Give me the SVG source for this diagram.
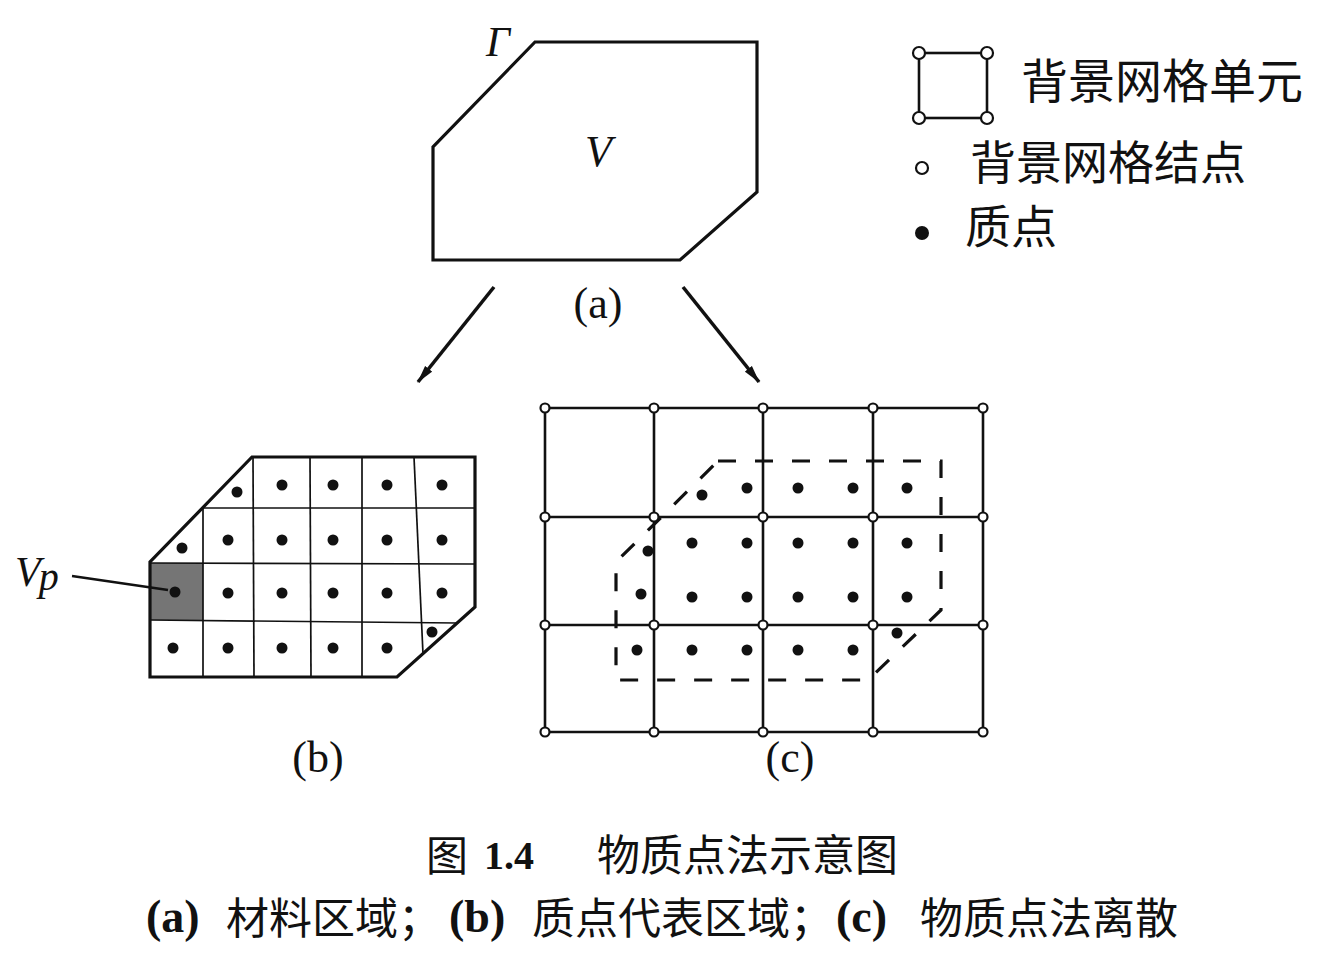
<svg xmlns="http://www.w3.org/2000/svg" width="1318" height="975" viewBox="0 0 1318 975">
<style>
.thick{fill:none;stroke:#111;stroke-width:3.2;stroke-linejoin:miter}
.arrow{fill:none;stroke:#111;stroke-width:3.6}
.thin{fill:none;stroke:#111;stroke-width:1.7}
.grid{fill:none;stroke:#111;stroke-width:2.6}
.dash{fill:none;stroke:#111;stroke-width:3.2;stroke-dasharray:18 19}
.node{fill:#fff;stroke:#111;stroke-width:2.2}
.dot{fill:#111}
.serif{font-family:"Liberation Serif","DejaVu Serif",serif;fill:#111}
.it{font-style:italic}
.cjk{font-family:"Noto Sans CJK SC","Noto Sans CJK JP",sans-serif;fill:#111}
.bold{font-weight:bold}
</style>
<defs>
<marker id="ah" viewBox="0 0 18 10" refX="17" refY="5" markerWidth="18" markerHeight="10" markerUnits="userSpaceOnUse" orient="auto">
<path d="M0,0.5 L18,5 L0,9.5 z" fill="#111"/>
</marker>
</defs>
<rect width="1318" height="975" fill="#fff"/>

<g id="panel-a">
<polygon class="thick" points="535,42 757,42 757,192 680,260 433,260 433,147"/>
<text class="serif it" x="486" y="56" font-size="42">Γ</text>
<text class="serif it" x="585" y="166" font-size="44">V</text>
<text class="serif" x="598" y="318" font-size="44" text-anchor="middle">(a)</text>
</g>

<g id="connectors">
<line class="arrow" x1="494" y1="287" x2="418" y2="382" marker-end="url(#ah)"/>
<line class="arrow" x1="683" y1="287" x2="759" y2="382" marker-end="url(#ah)"/>
</g>

<g id="legend">
<rect x="919" y="53" width="68" height="65" fill="none" stroke="#111" stroke-width="2.6"/>
<circle class="node" cx="919" cy="53" r="6"/>
<circle class="node" cx="987" cy="53" r="6"/>
<circle class="node" cx="919" cy="118" r="6"/>
<circle class="node" cx="987" cy="118" r="6"/>
<text class="cjk" x="1021" y="98" font-size="47">背景网格单元</text>
<circle class="node" cx="922" cy="168" r="6"/>
<text class="cjk" x="970" y="179" font-size="46">背景网格结点</text>
<circle class="dot" cx="922" cy="233" r="7"/>
<text class="cjk" x="965" y="243" font-size="46">质点</text>
</g>

<g id="panel-b">
<polygon points="150,563 203,563 203,620 150,620" fill="#757575"/>
<line class="thin" x1="203" y1="508" x2="475" y2="508"/>
<line class="thin" x1="150" y1="563" x2="475" y2="564"/>
<line class="thin" x1="150" y1="620" x2="457" y2="623"/>
<line class="thin" x1="203" y1="508" x2="203" y2="677"/>
<line class="thin" x1="253" y1="457" x2="254" y2="677"/>
<line class="thin" x1="310" y1="457" x2="311" y2="677"/>
<line class="thin" x1="362" y1="457" x2="362" y2="677"/>
<line class="thin" x1="414" y1="457" x2="423" y2="654"/>
<polygon class="thick" points="252,457 475,457 475,607 397,677 150,677 150,562"/>
<g class="dot">
<circle cx="237" cy="492" r="5.5"/><circle cx="282" cy="485" r="5.5"/><circle cx="333" cy="485" r="5.5"/><circle cx="387" cy="485" r="5.5"/><circle cx="442" cy="485" r="5.5"/>
<circle cx="182" cy="548" r="5.5"/><circle cx="228" cy="540" r="5.5"/><circle cx="282" cy="540" r="5.5"/><circle cx="333" cy="540" r="5.5"/><circle cx="387" cy="540" r="5.5"/><circle cx="442" cy="540" r="5.5"/>
<circle cx="175" cy="592" r="5.5"/><circle cx="228" cy="593" r="5.5"/><circle cx="282" cy="593" r="5.5"/><circle cx="333" cy="593" r="5.5"/><circle cx="387" cy="593" r="5.5"/><circle cx="442" cy="593" r="5.5"/>
<circle cx="173" cy="648" r="5.5"/><circle cx="228" cy="648" r="5.5"/><circle cx="282" cy="648" r="5.5"/><circle cx="333" cy="648" r="5.5"/><circle cx="387" cy="648" r="5.5"/><circle cx="432" cy="632" r="5.5"/>
</g>
<line x1="72" y1="576" x2="168" y2="590" stroke="#111" stroke-width="2.4"/>
<text class="serif it" x="15" y="586" font-size="42">V<tspan font-size="40" dx="-2" dy="4">p</tspan></text>
<text class="serif" x="318" y="772" font-size="44" text-anchor="middle">(b)</text>
</g>

<g id="panel-c">
<g class="grid">
<line x1="545" y1="408" x2="983" y2="408"/>
<line x1="545" y1="517" x2="983" y2="517"/>
<line x1="545" y1="625" x2="983" y2="625"/>
<line x1="545" y1="732" x2="983" y2="732"/>
<line x1="545" y1="408" x2="545" y2="732"/>
<line x1="654" y1="408" x2="654" y2="732"/>
<line x1="763" y1="408" x2="763" y2="732"/>
<line x1="873" y1="408" x2="873" y2="732"/>
<line x1="983" y1="408" x2="983" y2="732"/>
</g>
<polygon class="dash" points="718,461 941,461 941,610 868,680 616,680 616,562"/>
<g class="node">
<circle cx="545" cy="408" r="4.5"/><circle cx="654" cy="408" r="4.5"/><circle cx="763" cy="408" r="4.5"/><circle cx="873" cy="408" r="4.5"/><circle cx="983" cy="408" r="4.5"/>
<circle cx="545" cy="517" r="4.5"/><circle cx="654" cy="517" r="4.5"/><circle cx="763" cy="517" r="4.5"/><circle cx="873" cy="517" r="4.5"/><circle cx="983" cy="517" r="4.5"/>
<circle cx="545" cy="625" r="4.5"/><circle cx="654" cy="625" r="4.5"/><circle cx="763" cy="625" r="4.5"/><circle cx="873" cy="625" r="4.5"/><circle cx="983" cy="625" r="4.5"/>
<circle cx="545" cy="732" r="4.5"/><circle cx="654" cy="732" r="4.5"/><circle cx="763" cy="732" r="4.5"/><circle cx="873" cy="732" r="4.5"/><circle cx="983" cy="732" r="4.5"/>
</g>
<g class="dot">
<circle cx="702" cy="495" r="5.5"/><circle cx="747" cy="488" r="5.5"/><circle cx="798" cy="488" r="5.5"/><circle cx="853" cy="488" r="5.5"/><circle cx="907" cy="488" r="5.5"/>
<circle cx="648" cy="551" r="5.5"/><circle cx="692" cy="543" r="5.5"/><circle cx="747" cy="543" r="5.5"/><circle cx="798" cy="543" r="5.5"/><circle cx="853" cy="543" r="5.5"/><circle cx="907" cy="543" r="5.5"/>
<circle cx="641" cy="594" r="5.5"/><circle cx="692" cy="597" r="5.5"/><circle cx="747" cy="597" r="5.5"/><circle cx="798" cy="597" r="5.5"/><circle cx="853" cy="597" r="5.5"/><circle cx="907" cy="597" r="5.5"/>
<circle cx="637" cy="650" r="5.5"/><circle cx="692" cy="650" r="5.5"/><circle cx="747" cy="650" r="5.5"/><circle cx="798" cy="650" r="5.5"/><circle cx="853" cy="650" r="5.5"/><circle cx="897" cy="633" r="5.5"/>
</g>
<text class="serif" x="790" y="772" font-size="44" text-anchor="middle">(c)</text>
</g>

<g id="caption">
<text class="cjk" x="426" y="871" font-size="42">图</text>
<text class="serif bold" x="484" y="869" font-size="40">1.4</text>
<text class="cjk" x="597" y="871" font-size="43">物质点法示意图</text>
<text class="serif bold" x="146" y="932" font-size="46">(a)</text>
<text class="cjk" x="226" y="934" font-size="43">材料区域；</text>
<text class="serif bold" x="449" y="932" font-size="46">(b)</text>
<text class="cjk" x="532" y="934" font-size="43">质点代表区域；</text>
<text class="serif bold" x="836" y="932" font-size="46">(c)</text>
<text class="cjk" x="920" y="934" font-size="43">物质点法离散</text>
</g>
</svg>
